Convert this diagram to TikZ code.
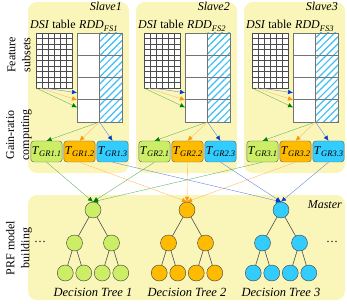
\documentclass[tikz,border=0pt]{standalone}
\usepackage{amsmath}
\usepackage{fontspec}
\setmainfont{Liberation Serif}
\usetikzlibrary{arrows.meta,positioning,shapes,patterns.meta}

\definecolor{panelyellow}{RGB}{250,246,185}
\definecolor{grgreen}{RGB}{204,238,102}
\definecolor{grorange}{RGB}{255,187,0}
\definecolor{grcyan}{RGB}{51,204,255}
\definecolor{arrgreen}{RGB}{90,175,90}
\definecolor{arrorange}{RGB}{255,185,90}
\definecolor{arrblue}{RGB}{90,125,225}
\definecolor{tipgreen}{RGB}{0,125,0}
\definecolor{tiporange}{RGB}{255,150,0}
\definecolor{tipblue}{RGB}{0,60,200}
\definecolor{hatchblue}{RGB}{60,190,245}

\newcommand{\tgr}[1]{\textit{T}\raisebox{-2.5pt}{\fontsize{8.5}{9}\selectfont\textit{GR#1}}}
\newcommand{\rddfs}[1]{\textit{RDD}\raisebox{-2.5pt}{\fontsize{8.5}{9}\selectfont\textit{FS#1}}}

\begin{document}
\begin{tikzpicture}[x=1pt,y=-1pt,font=\fontsize{12}{14}\selectfont,
  panel/.style={fill=panelyellow,rounded corners=9pt,inner sep=0pt},
  sidelabel/.style={rotate=90,align=center,inner sep=0pt,font=\fontsize{12}{15}\selectfont},
  title/.style={inner sep=0pt,font=\fontsize{12}{14}\selectfont\itshape},
  treetitle/.style={inner sep=0pt,font=\fontsize{12.5}{14}\selectfont\itshape},
  dsibox/.style={draw=black!70,fill=white,outer sep=0pt,inner sep=0pt,minimum width=36pt,minimum height=55pt},
  dsigrid/.style={draw=black!70,line width=0.5pt,xstep=6pt,ystep=5.5pt},
  rddbox/.style={fill=white,outer sep=0pt,inner sep=0pt,minimum width=45pt,minimum height=89pt},
  rddline/.style={draw=black!55,line width=0.7pt},
  hatch/.style={pattern={Lines[angle=45,distance=5pt,line width=1.2pt]},pattern color=hatchblue},
  tbox/.style={draw=black!60,rounded corners=3pt,inner sep=1pt,minimum width=31pt,minimum height=21pt},
  leaf/.style={draw=black!75,circle,inner sep=0pt,minimum size=16pt},
  edge/.style={draw=black!70,line width=0.6pt},
  garrow/.style={draw=arrgreen,line width=0.35pt,-{Latex[length=5pt,width=4.5pt,color=tipgreen]}},
  oarrow/.style={draw=arrorange,line width=0.35pt,-{Latex[length=5pt,width=4.5pt,color=tiporange]}},
  barrow/.style={draw=arrblue,line width=0.35pt,-{Latex[length=5pt,width=4.5pt,color=tipblue]}}]
\useasboundingbox (0,0) rectangle (347,304);
\node[panel,minimum width=101pt,minimum height=171pt] (s1) at (78.5,87.5) {};
\node[panel,minimum width=101pt,minimum height=171pt] (s2) at (186.5,87.5) {};
\node[panel,minimum width=101pt,minimum height=171pt] (s3) at (294.5,87.5) {};
\node[panel,minimum width=317pt,minimum height=105pt] (m) at (186.5,247.5) {};
\node[sidelabel] (l1) at (19,55) {Feature\\subsets};
\node[sidelabel] (l2) at (19,135) {Gain-ratio\\computing};
\node[sidelabel] (l3) at (19,248) {PRF model\\building};
\node[title,anchor=base east] (sl1) at (122,11) {Slave1};
\node[title,anchor=base east] (sl2) at (230,11) {Slave2};
\node[title,anchor=base east] (sl3) at (338,11) {Slave3};
\node[anchor=base west,inner sep=0pt] (dt1) at (30,29) {\textit{DSI} table};
\node[anchor=base west,inner sep=0pt] (dt2) at (138,29) {\textit{DSI} table};
\node[anchor=base west,inner sep=0pt] (dt3) at (246,29) {\textit{DSI} table};
\node[anchor=base west,inner sep=0pt] (rt1) at (79,29) {\rddfs{1}};
\node[anchor=base west,inner sep=0pt] (rt2) at (187,29) {\rddfs{2}};
\node[anchor=base west,inner sep=0pt] (rt3) at (295,29) {\rddfs{3}};
\node[dsibox] (dsi1) at (54,60.5) {};
\node[dsibox] (dsi2) at (162,60.5) {};
\node[dsibox] (dsi3) at (270,60.5) {};
\draw[dsigrid] (dsi1.south west) grid (dsi1.north east);
\draw[dsigrid] (dsi2.south west) grid (dsi2.north east);
\draw[dsigrid] (dsi3.south west) grid (dsi3.north east);
\node[rddbox] (rdd1) at (99.5,77.5) {};
\node[rddbox] (rdd2) at (207.5,77.5) {};
\node[rddbox] (rdd3) at (315.5,77.5) {};
\fill[hatch] (rdd1.north) rectangle (rdd1.south east);
\fill[hatch] (rdd2.north) rectangle (rdd2.south east);
\fill[hatch] (rdd3.north) rectangle (rdd3.south east);
\draw[rddline] (77,55.25) -- (122,55.25) (77,77.5) -- (122,77.5) (77,99.75) -- (122,99.75)
  (rdd1.north) -- (rdd1.south) (rdd1.north west) rectangle (rdd1.south east);
\draw[rddline] (185,55.25) -- (230,55.25) (185,77.5) -- (230,77.5) (185,99.75) -- (230,99.75)
  (rdd2.north) -- (rdd2.south) (rdd2.north west) rectangle (rdd2.south east);
\draw[rddline] (293,55.25) -- (338,55.25) (293,77.5) -- (338,77.5) (293,99.75) -- (338,99.75)
  (rdd3.north) -- (rdd3.south) (rdd3.north west) rectangle (rdd3.south east);
\draw[barrow] (dsi1.250) -- (rdd1.214.6);
\draw[oarrow] (dsi1.243) -- (rdd1.225);
\draw[garrow] (dsi1.south west) -- (rdd1.233.6);
\draw[barrow] (dsi2.250) -- (rdd2.214.6);
\draw[oarrow] (dsi2.243) -- (rdd2.225);
\draw[garrow] (dsi2.south west) -- (rdd2.233.6);
\draw[barrow] (dsi3.250) -- (rdd3.214.6);
\draw[oarrow] (dsi3.243) -- (rdd3.225);
\draw[garrow] (dsi3.south west) -- (rdd3.233.6);
\node[tbox,fill=grgreen] (t11) at (46.5,151.5) {\tgr{1.1}};
\node[tbox,fill=grorange] (t12) at (79.5,151.5) {\tgr{1.2}};
\node[tbox,fill=grcyan] (t13) at (112.5,151.5) {\tgr{1.3}};
\node[tbox,fill=grgreen] (t21) at (154.5,151.5) {\tgr{2.1}};
\node[tbox,fill=grorange] (t22) at (187.5,151.5) {\tgr{2.2}};
\node[tbox,fill=grcyan] (t23) at (220.5,151.5) {\tgr{2.3}};
\node[tbox,fill=grgreen] (t31) at (262.5,151.5) {\tgr{3.1}};
\node[tbox,fill=grorange] (t32) at (295.5,151.5) {\tgr{3.2}};
\node[tbox,fill=grcyan] (t33) at (328.5,151.5) {\tgr{3.3}};
\draw[garrow] (rdd1.south) -- (t11.north);
\draw[oarrow] (rdd1.south) -- (t12.north);
\draw[barrow] (rdd1.south) -- (t13.north);
\draw[garrow] (rdd2.south) -- (t21.north);
\draw[oarrow] (rdd2.south) -- (t22.north);
\draw[barrow] (rdd2.south) -- (t23.north);
\draw[garrow] (rdd3.south) -- (t31.north);
\draw[oarrow] (rdd3.south) -- (t32.north);
\draw[barrow] (rdd3.south) -- (t33.north);
\node[leaf,fill=grgreen] (r1) at (93,210) {};
\node[leaf,fill=grgreen] (r1l) at (74.5,243) {};
\node[leaf,fill=grgreen] (r1r) at (111.5,243) {};
\node[leaf,fill=grgreen] (r1ll) at (65.25,273) {};
\node[leaf,fill=grgreen] (r1lr) at (83.75,273) {};
\node[leaf,fill=grgreen] (r1rl) at (102.25,273) {};
\node[leaf,fill=grgreen] (r1rr) at (120.75,273) {};
\node[leaf,fill=grorange] (r2) at (187,210) {};
\node[leaf,fill=grorange] (r2l) at (168.5,243) {};
\node[leaf,fill=grorange] (r2r) at (205.5,243) {};
\node[leaf,fill=grorange] (r2ll) at (159.25,273) {};
\node[leaf,fill=grorange] (r2lr) at (177.75,273) {};
\node[leaf,fill=grorange] (r2rl) at (196.25,273) {};
\node[leaf,fill=grorange] (r2rr) at (214.75,273) {};
\node[leaf,fill=grcyan] (r3) at (281,210) {};
\node[leaf,fill=grcyan] (r3l) at (262.5,243) {};
\node[leaf,fill=grcyan] (r3r) at (299.5,243) {};
\node[leaf,fill=grcyan] (r3ll) at (253.25,273) {};
\node[leaf,fill=grcyan] (r3lr) at (271.75,273) {};
\node[leaf,fill=grcyan] (r3rl) at (290.25,273) {};
\node[leaf,fill=grcyan] (r3rr) at (308.75,273) {};
\draw[edge] (r1) -- (r1l) (r1) -- (r1r) (r1l) -- (r1ll) (r1l) -- (r1lr) (r1r) -- (r1rl) (r1r) -- (r1rr);
\draw[edge] (r2) -- (r2l) (r2) -- (r2r) (r2l) -- (r2ll) (r2l) -- (r2lr) (r2r) -- (r2rl) (r2r) -- (r2rr);
\draw[edge] (r3) -- (r3l) (r3) -- (r3r) (r3l) -- (r3ll) (r3l) -- (r3lr) (r3r) -- (r3rl) (r3r) -- (r3rr);
\draw[garrow] (t11.south) -- (r1.north);
\draw[garrow] (t21.south) -- (r1.north);
\draw[garrow] (t31.south) -- (r1.north);
\draw[oarrow] (t12.south) -- (r2.north);
\draw[oarrow] (t22.south) -- (r2.north);
\draw[oarrow] (t32.south) -- (r2.north);
\draw[barrow] (t13.south) -- (r3.north);
\draw[barrow] (t23.south) -- (r3.north);
\draw[barrow] (t33.south) -- (r3.north);
\node[treetitle] (dl1) at (93,292) {Decision Tree 1};
\node[treetitle] (dl2) at (187,292) {Decision Tree 2};
\node[treetitle] (dl3) at (281,292) {Decision Tree 3};
\node[title,anchor=base east] (ml) at (342,208) {Master};
\node (dots1) at (40,242) {\ldots};
\node (dots2) at (332,242) {\ldots};
\end{tikzpicture}
\end{document}
